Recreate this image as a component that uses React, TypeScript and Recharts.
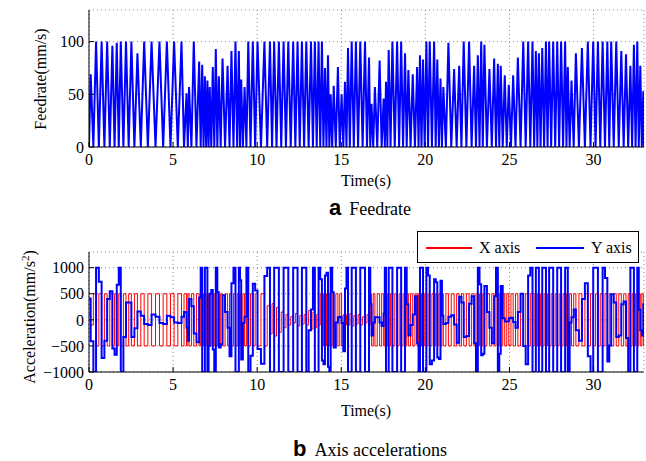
import { CartesianGrid, Line, LineChart, XAxis, YAxis } from 'recharts';

// Feedrate peaks (s, mm/s); the line drops to 0 between peaks.
const peakTimes = [
  0.1, 0.42, 0.75, 1.08, 1.39, 1.65, 1.89, 2.2, 2.52, 2.88,
  3.28, 3.72, 4.19, 4.63, 5.06, 5.5, 5.8, 5.95, 6.23, 6.55,
  6.73, 6.89, 7.04, 7.18, 7.36, 7.54, 7.72, 7.94, 8.24, 8.47,
  8.71, 8.91, 9.05, 9.25, 9.47, 9.74, 10.02, 10.43, 10.76, 11.01,
  11.29, 11.57, 11.85, 12.14, 12.4, 12.66, 12.92, 13.2, 13.43, 13.65,
  13.85, 14.03, 14.21, 14.37, 14.55, 14.8, 15.02, 15.22, 15.4, 15.62,
  15.87, 16.13, 16.41, 16.65, 16.8, 17.0, 17.28, 17.52, 17.66, 17.82,
  18.04, 18.32, 18.56, 18.79, 18.99, 19.25, 19.51, 19.68, 19.86, 20.06,
  20.26, 20.52, 20.71, 20.9, 21.07, 21.37, 21.71, 22.01, 22.28, 22.6,
  22.9, 23.12, 23.32, 23.51, 23.81, 24.09, 24.31, 24.48, 24.72, 24.96,
  25.22, 25.5, 25.82, 26.11, 26.37, 26.57, 26.75, 26.95, 27.17, 27.36,
  27.6, 27.84, 28.07, 28.31, 28.47, 28.69, 28.95, 29.31, 29.66, 29.98,
  30.26, 30.54, 30.82, 31.05, 31.35, 31.65, 31.93, 32.19, 32.4, 32.6,
  32.78, 32.96,
];
const peakFeed = [
  69, 100, 100, 100, 96, 99, 100, 100, 100, 89,
  100, 100, 100, 100, 100, 100, 51, 57, 100, 81,
  78, 67, 63, 57, 76, 93, 67, 84, 77, 91,
  100, 91, 64, 57, 100, 100, 100, 100, 100, 100,
  100, 100, 100, 100, 100, 100, 100, 100, 100, 100,
  100, 75, 87, 50, 58, 76, 50, 62, 94, 100,
  100, 100, 100, 85, 41, 57, 82, 46, 62, 92,
  100, 100, 100, 89, 73, 69, 76, 87, 83, 100,
  100, 100, 83, 65, 57, 99, 74, 77, 100, 100,
  77, 87, 100, 97, 74, 84, 79, 77, 68, 59,
  68, 85, 100, 100, 100, 91, 89, 94, 100, 100,
  100, 100, 100, 100, 76, 63, 89, 94, 100, 100,
  100, 100, 100, 100, 100, 91, 88, 77, 97, 100,
  77, 53,
];
// Axis accelerations (mm/s^2) during the rise of each peak; the fall is the negative.
const accX = [
  100, 500, 500, 500, 500, 500, 500, 500, 500, 500,
  500, 500, 500, 500, 500, 500, 500, 500, 500, 500,
  500, 500, 500, 500, 500, 500, 500, 500, 500, 500,
  500, 500, 500, 500, 500, 500, 500, 500, 270, 310,
  240, 150, 100, 60, 120, 80, 100, 180, 150, 100,
  500, 500, 500, 500, 500, 500, 500, 100, 100, 120,
  80, 100, 60, 100, 500, 500, 500, 500, 500, 500,
  500, 500, 500, 500, 500, 500, 500, 500, 500, 500,
  500, 500, 500, 500, 500, 500, 500, 500, 500, 500,
  500, 500, 500, 500, 500, 500, 500, 500, 500, 500,
  500, 500, 500, 500, 500, 500, 500, 500, 500, 500,
  500, 500, 500, 500, 500, 500, 500, 500, 500, 500,
  500, 500, 500, 500, 500, 500, 500, 500, 500, 500,
  500, 500,
];
// Y zigzags, so its sign flips from one peak to the next.
const accY = [
  410, -1000, 730, -400, 550, -670, 1000, -330, 330, -160,
  80, -100, 60, -80, 50, -60, 150, -400, 260, -430,
  1000, -1000, 1000, -500, 570, -1000, 530, -470, 150, -700,
  1000, -1000, 760, -60, 1000, -690, 560, -840, 1000, -1000,
  1000, -1000, 1000, -1000, 1000, -1000, 1000, -200, 1000, -1000,
  780, -850, 900, -1000, 530, -50, 60, -600, 1000, -1000,
  1000, -1000, 1000, -1000, 300, -50, 50, -120, 1000, -1000,
  1000, -1000, 1000, -1000, 300, -100, 450, -1000, 1000, -1000,
  850, -780, 720, -750, 80, -60, 90, -440, 330, -310,
  450, -1000, 680, -650, 150, -450, 1000, -650, 30, -30,
  40, -150, 500, -850, 1000, -1000, 1000, -1000, 1000, -1000,
  1000, -1000, 1000, -1000, 1000, -50, 200, -400, 700, -1000,
  1000, -1000, 800, -490, 330, -300, 350, -1000, 1000, -1000,
  200, -300,
];
const timeTicks = [0, 5, 10, 15, 20, 25, 30];
const feedTicks = [0, 50, 100];
const accTicks = [-1000, -500, 0, 500, 1000];
const tEnd = 33;

const rows: Array<{ t: number; feed: number; ax: number; ay: number }> = [];
peakTimes.forEach((tp, i) => {
  const start = i === 0 ? 0 : (peakTimes[i - 1] + tp) / 2;
  rows.push({ t: start, feed: 0, ax: accX[i], ay: accY[i] });
  rows.push({ t: tp, feed: peakFeed[i], ax: -accX[i], ay: -accY[i] });
});
rows.push({ t: tEnd, feed: 0, ax: 0, ay: 0 });

const serif = '"Liberation Serif", "Times New Roman", serif';
const sans = '"Liberation Sans", Arial, sans-serif';
const tickStyle = { fill: '#000', fontSize: 16, fontFamily: serif };
const grid = '#8a8a8a';
const fmt = (v: number) => (v < 0 ? `\u2212${-v}` : String(v));
const noLabel = () => <g />;

function Panel({
  dataTop,
  height,
  top,
  xHeight,
  domain,
  ticks,
  children,
}: {
  dataTop: number;
  height: number;
  top: number;
  xHeight: number;
  domain: [number, number];
  ticks: number[];
  children: React.ReactNode;
}) {
  return (
    <div style={{ position: 'absolute', left: 0, top }}>
      <LineChart width={646} height={height} data={rows} margin={{ top: dataTop, right: 2, bottom: 0, left: 0 }}>
        <CartesianGrid stroke={grid} strokeDasharray="1 3" />
        <XAxis
          dataKey="t"
          type="number"
          domain={[0, tEnd]}
          ticks={timeTicks}
          allowDataOverflow
          height={xHeight}
          tickSize={-5}
          tickMargin={12}
          tick={tickStyle}
          axisLine={{ stroke: '#000' }}
          tickLine={{ stroke: '#000' }}
        />
        <XAxis
          xAxisId="top"
          orientation="top"
          dataKey="t"
          type="number"
          domain={[0, tEnd]}
          ticks={timeTicks}
          allowDataOverflow
          height={0}
          tickSize={-5}
          tick={noLabel}
          axisLine={{ stroke: '#000' }}
          tickLine={{ stroke: '#000' }}
        />
        <YAxis
          type="number"
          domain={domain}
          ticks={ticks}
          allowDataOverflow
          width={89}
          tickSize={-5}
          tickMargin={10}
          tick={tickStyle}
          tickFormatter={fmt}
          axisLine={{ stroke: '#000' }}
          tickLine={{ stroke: '#000' }}
        />
        <YAxis
          yAxisId="r"
          orientation="right"
          type="number"
          domain={domain}
          ticks={ticks}
          allowDataOverflow
          width={0}
          tickSize={-5}
          tick={noLabel}
          axisLine={{ stroke: '#000' }}
          tickLine={{ stroke: '#000' }}
        />
        {children}
      </LineChart>
    </div>
  );
}

const abs = (left: number, top: number): React.CSSProperties => ({
  position: 'absolute',
  left,
  top,
  whiteSpace: 'nowrap',
  lineHeight: 1,
});

export default function App() {
  return (
    <div
      style={{
        position: 'absolute',
        left: 0,
        top: 0,
        width: 646,
        height: 461,
        background: '#fff',
        fontFamily: serif,
        fontSize: 16,
        color: '#000',
      }}
    >
      <Panel dataTop={10} height={200} top={0} xHeight={53} domain={[0, 130]} ticks={feedTicks}>
        <Line type="linear" dataKey="feed" stroke="#0000ff" strokeWidth={2} dot={false} isAnimationActive={false} />
      </Panel>
      <Panel dataTop={12} height={200} top={240} xHeight={68} domain={[-1000, 1300]} ticks={accTicks}>
        <Line type="stepAfter" dataKey="ax" stroke="#ff0000" strokeWidth={1} dot={false} isAnimationActive={false} />
        <Line type="stepAfter" dataKey="ay" stroke="#0000ff" strokeWidth={2} dot={false} isAnimationActive={false} />
      </Panel>

      {/* axis titles */}
      <div style={{ ...abs(41, 79), transform: 'translate(-50%, -50%) rotate(-90deg)' }}>Feedrate(mm/s)</div>
      <div style={{ ...abs(29, 317), transform: 'translate(-50%, -50%) rotate(-90deg)' }}>
        Acceleration(mm/s<sup style={{ fontSize: 11, verticalAlign: 'super' }}>2</sup>)
      </div>
      <div style={{ ...abs(366, 181), transform: 'translate(-50%, -50%)' }}>Time(s)</div>
      <div style={{ ...abs(366, 411), transform: 'translate(-50%, -50%)' }}>Time(s)</div>

      {/* captions */}
      <div style={{ ...abs(370, 208), transform: 'translate(-50%, -50%)', fontSize: 18 }}>
        <span style={{ fontFamily: sans, fontWeight: 700, fontSize: 22 }}>a</span>
        <span style={{ marginLeft: 8 }}>Feedrate</span>
      </div>
      <div style={{ ...abs(370, 449), transform: 'translate(-50%, -50%)', fontSize: 18 }}>
        <span style={{ fontFamily: sans, fontWeight: 700, fontSize: 22 }}>b</span>
        <span style={{ marginLeft: 8 }}>Axis accelerations</span>
      </div>

      {/* legend */}
      <div
        style={{
          position: 'absolute',
          left: 417,
          top: 231,
          width: 220,
          height: 30,
          border: '1px solid #000',
          background: '#fff',
        }}
      >
        <svg width={220} height={30} style={{ position: 'absolute', left: 0, top: 0 }}>
          <line x1={8} x2={54} y1={16} y2={16} stroke="#ff0000" strokeWidth={2} />
          <line x1={118} x2={166} y1={16} y2={16} stroke="#0000ff" strokeWidth={2} />
        </svg>
        <div style={{ ...abs(61, 8) }}>X axis</div>
        <div style={{ ...abs(173, 8) }}>Y axis</div>
      </div>
    </div>
  );
}
